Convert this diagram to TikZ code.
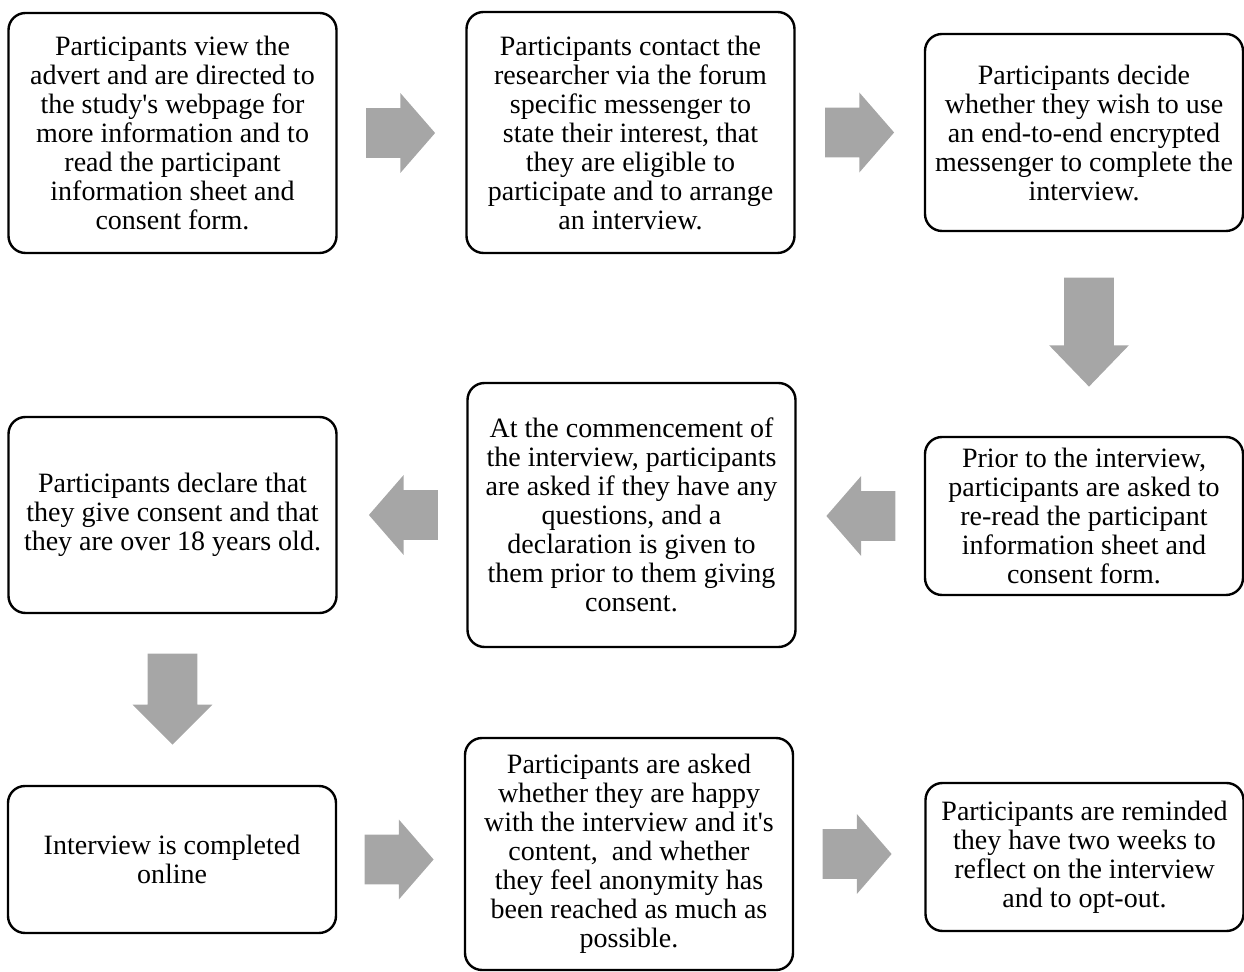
\documentclass[tikz,border=0pt]{standalone}
\usepackage{fontspec}
\setmainfont{Liberation Serif}
\usepackage{xcolor}
\usepackage{tikz}
\usetikzlibrary{shapes.arrows, calc}
\definecolor{arrowgray}{RGB}{166,166,166}
\newcommand{\boxfont}{\fontsize{14pt}{14.5pt}\selectfont}
\tikzset{stepbox/.style={draw, line width=1.2pt, rounded corners=8.5pt,
        align=center, inner sep=0pt, font=\boxfont},
    wide/.style={minimum width=164pt},
    narrow/.style={minimum width=159pt},
    blockarrow/.style={single arrow, fill=arrowgray, draw=none, anchor=tail,
        inner xsep=0pt, inner ysep=12.25pt, single arrow head extend=7.5pt,
        single arrow tip angle=98, minimum height=34.5pt},
    x=0.5pt, y=-0.5pt}

\begin{document}
\begin{tikzpicture}
    \useasboundingbox (0,0) rectangle (1244,972);
    % first row
    \node[stepbox, wide, minimum height=120pt] (advert) at (172.5,133)
        {Participants view the\\ advert and are directed to\\
        the study\textquotesingle s webpage for\\ more information and to\\
        read the participant\\ information sheet and\\ consent form.};
    \node[stepbox, wide, minimum height=120.5pt] (contact) at (630.5,132.5)
        {Participants contact the\\ researcher via the forum\\
        specific messenger to\\ state their interest, that\\
        they are eligible to\\ participate and to arrange\\ an interview.};
    \node[stepbox, narrow, minimum height=98.5pt] (decide) at (1084,132.5)
        {Participants decide\\ whether they wish to use\\
        an end-to-end encrypted\\ messenger to complete the\\ interview.};
    % second row
    \node[stepbox, narrow, minimum height=79pt] (reread) at (1084,516)
        {Prior to the interview,\\ participants are asked to\\
        re-read the participant\\ information sheet and\\ consent form.};
    \node[stepbox, wide, minimum height=132pt] (commence) at (631.5,515)
        {At the commencement of\\ the interview, participants\\
        are asked if they have any\\ questions, and a\\
        declaration is given to\\ them prior to them giving\\ consent.};
    \node[stepbox, wide, minimum height=98pt] (declare) at (172.5,515)
        {Participants declare that\\ they give consent and that\\
        they are over 18 years old.};
    % third row
    \node[stepbox, wide, minimum height=73.5pt] (online) at (172,859.5)
        {Interview is completed\\ online};
    \node[stepbox, wide, minimum height=116pt] (happy) at (629,854)
        {Participants are asked\\ whether they are happy\\
        with the interview and it\textquotesingle s\\ content, \ and whether\\
        they feel anonymity has\\ been reached as much as\\ possible.};
    \node[stepbox, narrow, minimum height=74pt] (remind) at (1084.5,857)
        {Participants are reminded\\ they have two weeks to\\
        reflect on the interview\\ and to opt-out.};

    % block arrows
    \node[blockarrow] (a1) at ($(advert.east)+(28,0)$) {};
    \node[blockarrow] (a2) at ($(contact.east)+(29,0)$) {};
    \node[blockarrow, rotate=-90, minimum height=54.5pt, single arrow tip angle=88]
        (a3) at ($(decide.south)+(5,45)$) {};
    \node[blockarrow, rotate=180] (a4) at ($(reread.west)+(-28,0)$) {};
    \node[blockarrow, rotate=180] (a5) at ($(commence.west)+(-28,0)$) {};
    \node[blockarrow, rotate=-90, minimum height=45.5pt, single arrow tip angle=90]
        (a6) at ($(declare.south)+(0,39)$) {};
    \node[blockarrow] (a7) at ($(online.east)+(27,0)$) {};
    \node[blockarrow] (a8) at ($(happy.east)+(28,0)$) {};
\end{tikzpicture}
\end{document}
